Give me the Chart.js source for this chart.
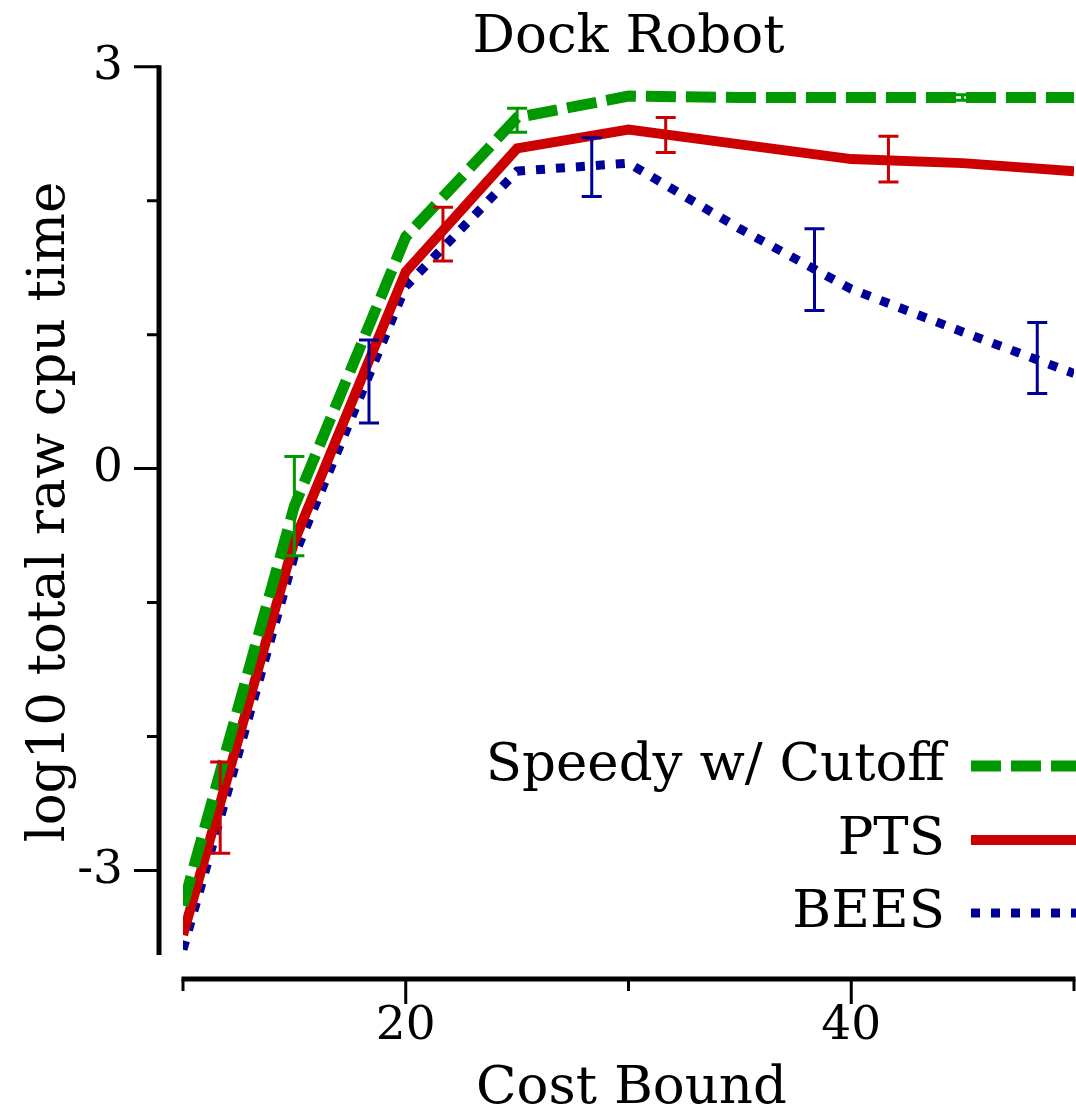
<!DOCTYPE html>
<html>
<head>
<meta charset="utf-8">
<script src="https://cdn.jsdelivr.net/npm/chart.js@4.4.1/dist/chart.umd.min.js"></script>
<style>
  html, body { margin: 0; padding: 0; background: #fff; }
  #wrap { width: 1076px; height: 1114px; }
</style>
</head>
<body>
<div id="wrap"><canvas id="myChart" width="1076" height="1114"></canvas></div>
<script>
// log10 total raw cpu time per cost bound
const costBounds = [10, 15, 20, 25, 30, 35, 40, 45, 50];
const speedyCutoff = [-3.26, -0.28, 1.73, 2.62, 2.78, 2.77, 2.77, 2.77, 2.77];
const pts = [-3.48, -0.54, 1.47, 2.39, 2.53, 2.42, 2.31, 2.28, 2.22];
const bees = [-3.59, -0.65, 1.36, 2.22, 2.28, 1.79, 1.34, 1.02, 0.71];

// error bars (x, low, high)
const speedyErrX = [15, 25, 35, 45];
const speedyErrLow = [-0.65, 2.51, 2.75, 2.75];
const speedyErrHigh = [0.09, 2.69, 2.79, 2.79];
const ptsErrX = [11.67, 21.67, 31.67, 41.67];
const ptsErrLow = [-2.87, 1.55, 2.36, 2.14];
const ptsErrHigh = [-2.19, 1.95, 2.62, 2.48];
const beesErrX = [18.35, 28.35, 38.35, 48.35];
const beesErrLow = [0.34, 2.03, 1.18, 0.56];
const beesErrHigh = [0.96, 2.47, 1.79, 1.09];

const yTicks = [3, 0, -3];
const yMinorTicks = [2, 1, -1, -2];
const xTicks = [20, 40];
const xMinorTicks = [10, 30, 50];

const FONT = '"DejaVu Serif", serif';
const GREEN = '#009900';
const RED = '#cc0000';
const BLUE = '#000099';

const toPoints = (ys) => costBounds.map((x, i) => ({x: x, y: ys[i]}));

const errorBarPlugin = {
    id: 'errorBars',
    afterDatasetsDraw(chart) {
        const {ctx, scales: {x, y}} = chart;
        chart.data.datasets.forEach(ds => {
            const e = ds.errorBars;
            ctx.save();
            ctx.strokeStyle = ds.borderColor;
            ctx.lineWidth = 3;
            e.x.forEach((xv, i) => {
                const px = x.getPixelForValue(xv);
                const lo = y.getPixelForValue(e.low[i]);
                const hi = y.getPixelForValue(e.high[i]);
                ctx.beginPath();
                ctx.moveTo(px, lo); ctx.lineTo(px, hi);
                ctx.moveTo(px - 10, lo); ctx.lineTo(px + 10, lo);
                ctx.moveTo(px - 10, hi); ctx.lineTo(px + 10, hi);
                ctx.stroke();
            });
            ctx.restore();
        });
    }
};

const axesPlugin = {
    id: 'detachedAxes',
    afterDraw(chart) {
        const {ctx, chartArea, scales: {x, y}} = chart;
        const axX = chartArea.left - 24;
        const axY = chartArea.bottom + 24;
        ctx.save();
        ctx.strokeStyle = '#000';
        ctx.lineWidth = 5;
        ctx.beginPath();
        ctx.moveTo(axX, y.getPixelForValue(3) - 1.5);
        ctx.lineTo(axX, chartArea.bottom);
        ctx.moveTo(x.getPixelForValue(10) - 1.5, axY);
        ctx.lineTo(x.getPixelForValue(50) + 1.5, axY);
        ctx.stroke();

        ctx.lineWidth = 3;
        ctx.beginPath();
        yTicks.forEach(v => {
            const p = y.getPixelForValue(v);
            ctx.moveTo(axX - 25, p); ctx.lineTo(axX, p);
        });
        yMinorTicks.forEach(v => {
            const p = y.getPixelForValue(v);
            ctx.moveTo(axX - 12, p); ctx.lineTo(axX, p);
        });
        xTicks.forEach(v => {
            const p = x.getPixelForValue(v);
            ctx.moveTo(p, axY); ctx.lineTo(p, axY + 25);
        });
        xMinorTicks.forEach(v => {
            const p = x.getPixelForValue(v);
            ctx.moveTo(p, axY); ctx.lineTo(p, axY + 12);
        });
        ctx.stroke();

        ctx.fillStyle = '#000';
        ctx.font = '47px ' + FONT;
        ctx.textAlign = 'right';
        ctx.textBaseline = 'middle';
        yTicks.forEach(v => ctx.fillText(String(v), axX - 36, y.getPixelForValue(v)));
        ctx.textAlign = 'center';
        xTicks.forEach(v => ctx.fillText(String(v), x.getPixelForValue(v), axY + 48));

        ctx.font = '53px ' + FONT;
        ctx.fillText('Cost Bound', (chartArea.left + chartArea.right) / 2 + 3, axY + 110);

        ctx.save();
        ctx.translate(50, 512);
        ctx.rotate(-Math.PI / 2);
        ctx.fillText('log10 total raw cpu time', 0, 0);
        ctx.restore();

        // legend, text right-aligned with line sample on the right
        ctx.textAlign = 'right';
        const rows = [766, 840, 913];
        chart.data.datasets.forEach((ds, i) => {
            ctx.fillStyle = '#000';
            ctx.fillText(ds.label, 945, rows[i]);
            ctx.strokeStyle = ds.borderColor;
            ctx.lineWidth = ds.borderWidth;
            ctx.setLineDash(ds.borderDash || []);
            ctx.beginPath();
            ctx.moveTo(971, rows[i]);
            ctx.lineTo(1076, rows[i]);
            ctx.stroke();
            ctx.setLineDash([]);
        });
        ctx.restore();
    }
};

const chart = new Chart(document.getElementById('myChart'), {
    type: 'line',
    data: {
        datasets: [
            {
                label: 'Speedy w/ Cutoff',
                data: toPoints(speedyCutoff),
                borderColor: GREEN,
                borderWidth: 11,
                borderDash: [30, 10],
                errorBars: {x: speedyErrX, low: speedyErrLow, high: speedyErrHigh}
            },
            {
                label: 'PTS',
                data: toPoints(pts),
                borderColor: RED,
                borderWidth: 10,
                errorBars: {x: ptsErrX, low: ptsErrLow, high: ptsErrHigh}
            },
            {
                label: 'BEES',
                data: toPoints(bees),
                borderColor: BLUE,
                borderWidth: 9,
                borderDash: [9, 11],
                errorBars: {x: beesErrX, low: beesErrLow, high: beesErrHigh}
            }
        ]
    },
    options: {
        responsive: false,
        animation: false,
        elements: {
            point: { radius: 0 },
            line: { tension: 0, borderCapStyle: 'butt', borderJoinStyle: 'miter', fill: false }
        },
        layout: {
            padding: { left: 183, right: 2, top: 0, bottom: 159 }
        },
        scales: {
            x: { type: 'linear', min: 10, max: 50, display: false },
            y: { type: 'linear', min: -3.63, max: 3, display: false }
        },
        plugins: {
            legend: { display: false },
            tooltip: { enabled: false },
            title: {
                display: true,
                text: 'Dock Robot',
                color: '#000',
                font: { family: FONT, size: 53, weight: 'normal', lineHeight: 1.05 },
                padding: { top: 10, bottom: 1 }
            }
        }
    },
    plugins: [errorBarPlugin, axesPlugin]
});
</script>
</body>
</html>
